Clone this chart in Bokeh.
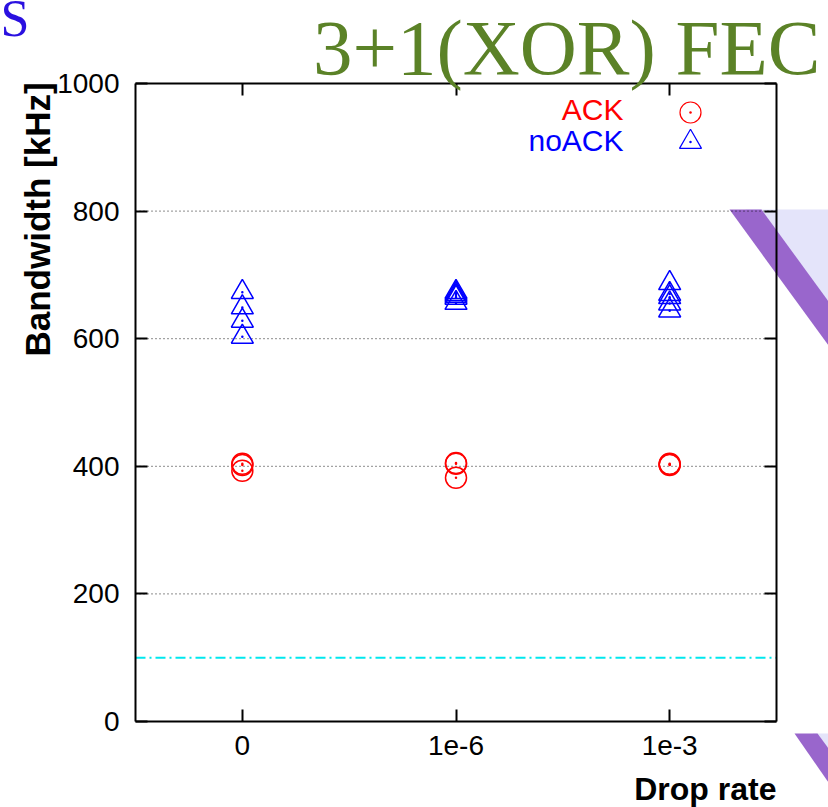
import math
from bokeh.plotting import figure
from bokeh.models import (LinearAxis, FixedTicker, Label, PolyAnnotation, Range1d, Grid)
from bokeh.embed import file_html
from bokeh.resources import INLINE

# ---------------- data ----------------
drop_rates = ["0", "1e-6", "1e-3"]
ack_0 = [404, 402, 393]
ack_1e6 = [405, 404, 382]
ack_1e3 = [404, 403, 402]
noack_0 = [673, 649, 628, 603]
noack_1e6 = [673, 670, 667, 664, 656]
noack_1e3 = [687, 670, 665, 655, 644]
reference_bw = 100
y_ticks = [0, 200, 400, 600, 800, 1000]
grid_ticks = [200, 400, 600, 800]

ack_series = [ack_0, ack_1e6, ack_1e3]
noack_series = [noack_0, noack_1e6, noack_1e3]

# ---------------- layout ----------------
W, H = 828, 807
FL, FR, FT, FB = 135, 776, 83, 721      # plot box in pixels
X0, X1 = -0.5, 2.5                      # plot box in data units
Y0, Y1 = 0, 1000


def px2x(px):
    return X0 + (px - FL) * (X1 - X0) / (FR - FL)


def py2y(py):
    return Y0 + (FB - py) * (Y1 - Y0) / (FB - FT)


BASE_SHIFT = 0.37  # label baseline correction (fraction of font size)

p = figure(width=W, height=H, output_backend="svg", toolbar_location=None,
           x_range=Range1d(px2x(0), px2x(W)), y_range=Range1d(py2y(H), py2y(0)),
           min_border=0, x_axis_location=None, y_axis_location=None)
for g in p.select(type=Grid):
    g.visible = False
p.outline_line_color = None
p.background_fill_color = "white"
p.border_fill_color = "white"

FONT = "Liberation Sans"

# slide decorations (purple bands)
LAV = "#e4e4fa"
PUR = "#9966cc"
deco = [
    (LAV, [745, 828, 828], [209, 209, 325]),
    (PUR, [729, 761, 828, 828], [209, 209, 301, 345]),
    (LAV, [812, 828, 828], [733, 733, 750]),
    (PUR, [794, 817, 828, 828], [733, 733, 748, 782]),
]
for col, xs, ys in deco:
    p.add_layout(PolyAnnotation(xs=[px2x(v) for v in xs], ys=[py2y(v) for v in ys],
                                fill_color=col, fill_alpha=1.0, line_color=None,
                                level="underlay"))

# grid lines and reference line
p.segment(x0=X0, x1=X1, y0=grid_ticks, y1=grid_ticks, line_color="black",
          line_dash="1 3", line_width=1, line_alpha=0.9)
p.segment(x0=[X0], x1=[X1], y0=[reference_bw], y1=[reference_bw],
          line_color="#00e8ee", line_width=2, line_dash="10 4 2 4")


def style_axis(ax, labels=True):
    ax.axis_line_width = 2
    ax.axis_line_color = "black"
    ax.major_tick_in = 12
    ax.major_tick_out = 0
    ax.major_tick_line_width = 2
    ax.major_tick_line_color = "black"
    ax.minor_tick_line_color = None
    ax.major_label_text_font = FONT
    ax.major_label_text_font_size = "28px"
    ax.major_label_text_color = "black" if labels else None


xticks = list(range(len(drop_rates)))
xb = LinearAxis(ticker=FixedTicker(ticks=xticks), fixed_location=Y0, bounds=(X0, X1),
                major_label_overrides={i: s for i, s in enumerate(drop_rates)})
style_axis(xb)
xb.major_label_standoff = 14
p.add_layout(xb, "below")

xt = LinearAxis(ticker=FixedTicker(ticks=xticks), fixed_location=Y1, bounds=(X0, X1))
style_axis(xt, labels=False)
p.add_layout(xt, "above")

yl = LinearAxis(ticker=FixedTicker(ticks=y_ticks), fixed_location=X0, bounds=(Y0, Y1))
style_axis(yl)
yl.major_label_standoff = 16
p.add_layout(yl, "left")

yr = LinearAxis(ticker=FixedTicker(ticks=y_ticks), fixed_location=X1, bounds=(Y0, Y1))
style_axis(yr, labels=False)
p.add_layout(yr, "right")

# ---------------- data marks ----------------
ack_x = [i for i, s in enumerate(ack_series) for _ in s]
ack_y = [v for s in ack_series for v in s]
noack_x = [i for i, s in enumerate(noack_series) for _ in s]
noack_y = [v for s in noack_series for v in s]

p.scatter(ack_x, ack_y, marker="circle", size=21, fill_color=None,
          line_color="red", line_width=1.5)
p.scatter(ack_x, ack_y, marker="circle", size=2.5, fill_color="red", line_color=None)
p.scatter(noack_x, noack_y, marker="triangle", size=22, fill_color=None,
          line_color="blue", line_width=1.5)
p.scatter(noack_x, noack_y, marker="circle", size=2.5, fill_color="blue", line_color=None)


def text_at(px, py_base, text, size, color, font=FONT, align="left", style="normal"):
    p.add_layout(Label(x=px2x(px), y=py2y(py_base - BASE_SHIFT * size), text=text,
                       text_align=align, text_baseline="alphabetic", text_font=font,
                       text_font_style=style, text_font_size=f"{size}px",
                       text_color=color))


# legend (text left of key, as in gnuplot)
lx = px2x(690)
p.scatter([lx], [py2y(112)], marker="circle", size=21, fill_color=None,
          line_color="red", line_width=1.2)
p.scatter([lx], [py2y(112)], marker="circle", size=2.5, fill_color="red", line_color=None)
p.scatter([lx], [py2y(141.5)], marker="triangle", size=22, fill_color=None,
          line_color="blue", line_width=1.2)
p.scatter([lx], [py2y(141.5)], marker="circle", size=2.5, fill_color="blue", line_color=None)
text_at(623, 120, "ACK", 30, "red", align="right")
text_at(623, 151, "noACK", 30, "blue", align="right")

# axis titles
YL_SIZE = 35
p.add_layout(Label(x=px2x(50 - BASE_SHIFT * YL_SIZE), y=py2y(356), text="Bandwidth [kHz]",
                   angle=math.pi / 2, text_align="left", text_baseline="alphabetic",
                   text_font=FONT, text_font_style="bold",
                   text_font_size=f"{YL_SIZE}px", text_color="black"))
text_at(776, 800, "Drop rate", 32, "black", align="right", style="bold")

# slide titles
text_at(820, 76, "3+1(XOR) FEC", 79, "#5b8227", font="Liberation Serif", align="right")
text_at(0, 37, "S", 52, "#2a10e0", font="Liberation Serif")

open("out.html", "w").write(file_html(p, INLINE))
